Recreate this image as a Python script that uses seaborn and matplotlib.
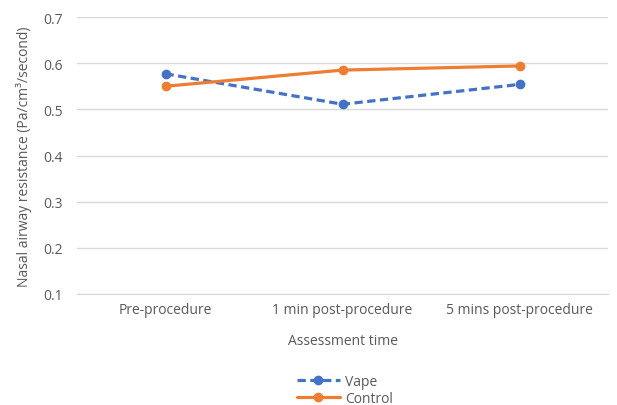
import pandas as pd
import matplotlib
matplotlib.use("Agg")
import matplotlib.pyplot as plt
import seaborn as sns

# data
timepoints = ["Pre-procedure", "1 min post-procedure", "5 mins post-procedure"]
vape = [0.577, 0.511, 0.554]
control = [0.550, 0.585, 0.594]

df = pd.DataFrame({
    "time": timepoints * 2,
    "resistance": vape + control,
    "group": ["Vape"] * 3 + ["Control"] * 3,
})

sns.set_style("white")
plt.rcParams["font.family"] = ["Open Sans", "DejaVu Sans"]
text_col = "#595959"
fs = 10

fig = plt.figure(figsize=(6.17, 4.06), dpi=100)
ax = fig.add_axes([77 / 617, 1 - 295 / 406, 531 / 617, 277 / 406])

palette = {"Vape": "#4472C4", "Control": "#ED7D31"}
sns.lineplot(data=df, x="time", y="resistance", hue="group", style="group",
             palette=palette, dashes={"Vape": (2.6, 1.4), "Control": ""},
             markers={"Vape": "o", "Control": "o"}, markersize=7,
             markeredgewidth=0, linewidth=2.3, sort=False, ax=ax)

ax.set_ylim(0.1, 0.7)
ax.set_xlim(-0.5, 2.5)
ax.set_yticks([0.1, 0.2, 0.3, 0.4, 0.5, 0.6, 0.7])
ax.set_yticklabels([f"{v:.1f}" for v in ax.get_yticks()])
ax.yaxis.grid(True, color="#D9D9D9", linewidth=1)
ax.set_axisbelow(True)
for side in ["top", "right", "left"]:
    ax.spines[side].set_visible(False)
ax.spines["bottom"].set_color("#D9D9D9")
ax.tick_params(axis="both", length=0, colors=text_col, labelsize=fs)
ax.tick_params(axis="y", pad=10)
ax.tick_params(axis="x", pad=6)

ax.set_xlabel("Assessment time", color=text_col, fontsize=fs, labelpad=11)
ax.set_ylabel("Nasal airway resistance (Pa/cm³/second)", color=text_col,
              fontsize=fs, labelpad=8)

ax.get_legend().remove()
handles, labels = ax.get_legend_handles_labels()
leg = fig.legend(handles, labels, loc="center", bbox_to_anchor=(345 / 617, 1 - 391 / 406),
                 frameon=False, fontsize=fs, handlelength=3.1, handletextpad=0.4,
                 labelspacing=0.15, borderpad=0)
for t in leg.get_texts():
    t.set_color(text_col)

fig.savefig("out.png", dpi=100, facecolor="white")
